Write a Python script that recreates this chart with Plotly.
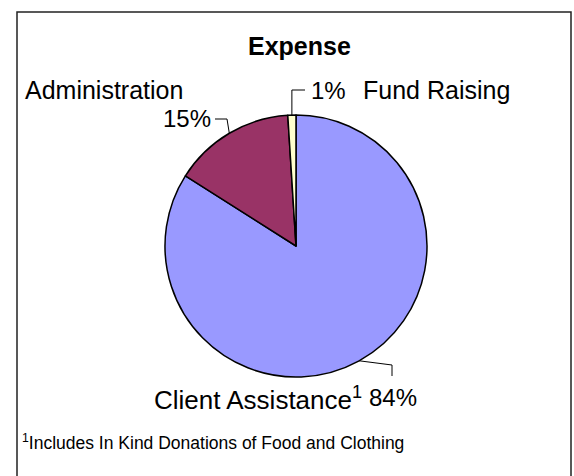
import math
import plotly.graph_objects as go

W, H = 574, 476

# ---- data ----
title = "Expense"
categories = ["Client Assistance", "Administration", "Fund Raising"]
values = [84, 15, 1]
pct_labels = ["84%", "15%", "1%"]
cat_labels = ["Client Assistance<sup>1</sup>", "Administration", "Fund Raising"]
footnote = "<sup>1</sup>Includes In Kind Donations of Food and Clothing"
colors = ["#9999FF", "#993366", "#FFFFCC"]

# ---- layout helpers (pixel -> paper) ----
def px(x):
    return x / W

def py(y):
    return 1 - y / H

cx, cy, r = 296, 246, 131

fig = go.Figure(go.Pie(
    labels=categories,
    values=values,
    sort=False,
    direction="clockwise",
    rotation=0,
    textinfo="none",
    hoverinfo="label+percent",
    marker=dict(colors=colors, line=dict(color="black", width=1.5)),
    domain=dict(x=[px(cx - r), px(cx + r)], y=[py(cy + r), py(cy - r)]),
    showlegend=False,
))

# slice mid-angles (clockwise from 12 o'clock), derived from the data
total = sum(values)
mids = []
acc = 0
for v in values:
    mids.append((acc + v / 2) / total * 2 * math.pi)
    acc += v

def edge(i):
    a = mids[i]
    return cx + r * math.sin(a), cy - r * math.cos(a)

shapes = []
# outer frame (bottom edge runs off the page)
shapes.append(dict(type="rect", xref="paper", yref="paper",
                   x0=px(17), x1=px(571), y0=py(490), y1=py(12),
                   line=dict(color="#222222", width=1.5), fillcolor="rgba(0,0,0,0)"))

def path(points):
    d = "M " + " L ".join(f"{px(x)},{py(y)}" for x, y in points)
    return dict(type="path", xref="paper", yref="paper", path=d,
                line=dict(color="black", width=1))

# leader lines
ex, ey = edge(0)
shapes.append(path([(ex, ey), (392, 365), (392, 376)]))
ex, ey = edge(1)
shapes.append(path([(ex, ey), (227, 119), (215, 119)]))
ex, ey = edge(2)
shapes.append(path([(ex, ey), (ex, 90), (305, 90)]))

font = "Arial, 'Liberation Sans', sans-serif"
ann = []
ann.append(dict(text=f"<b>{title}</b>", x=px(299), y=py(46), xanchor="center", yanchor="middle",
                font=dict(size=25, color="black", family=font)))
ann.append(dict(text=cat_labels[1], x=px(23), y=py(90), xanchor="left", yanchor="middle",
                font=dict(size=25, color="black", family=font)))
ann.append(dict(text=pct_labels[1], x=px(213), y=py(118), xanchor="right", yanchor="middle",
                font=dict(size=24, color="black", family=font)))
ann.append(dict(text=pct_labels[2], x=px(309), y=py(90), xanchor="left", yanchor="middle",
                font=dict(size=24, color="black", family=font)))
ann.append(dict(text=cat_labels[2], x=px(361), y=py(90), xanchor="left", yanchor="middle",
                font=dict(size=25, color="black", family=font)))
ann.append(dict(text=cat_labels[0], x=px(364), y=py(398), xanchor="right", yanchor="middle",
                font=dict(size=26, color="black", family=font)))
ann.append(dict(text=pct_labels[0], x=px(393), y=py(397), xanchor="center", yanchor="middle",
                font=dict(size=24, color="black", family=font)))
ann.append(dict(text=footnote, x=px(20), y=py(442), xanchor="left", yanchor="middle",
                font=dict(size=17.5, color="black", family=font)))
for a in ann:
    a.update(xref="paper", yref="paper", showarrow=False)

fig.update_layout(
    width=W, height=H,
    margin=dict(l=0, r=0, t=0, b=0),
    paper_bgcolor="white", plot_bgcolor="white",
    shapes=shapes, annotations=ann,
)

fig.write_html("out.html", config={"displayModeBar": False},
               post_script="document.body.style.margin='0px';document.body.style.padding='0px';")
